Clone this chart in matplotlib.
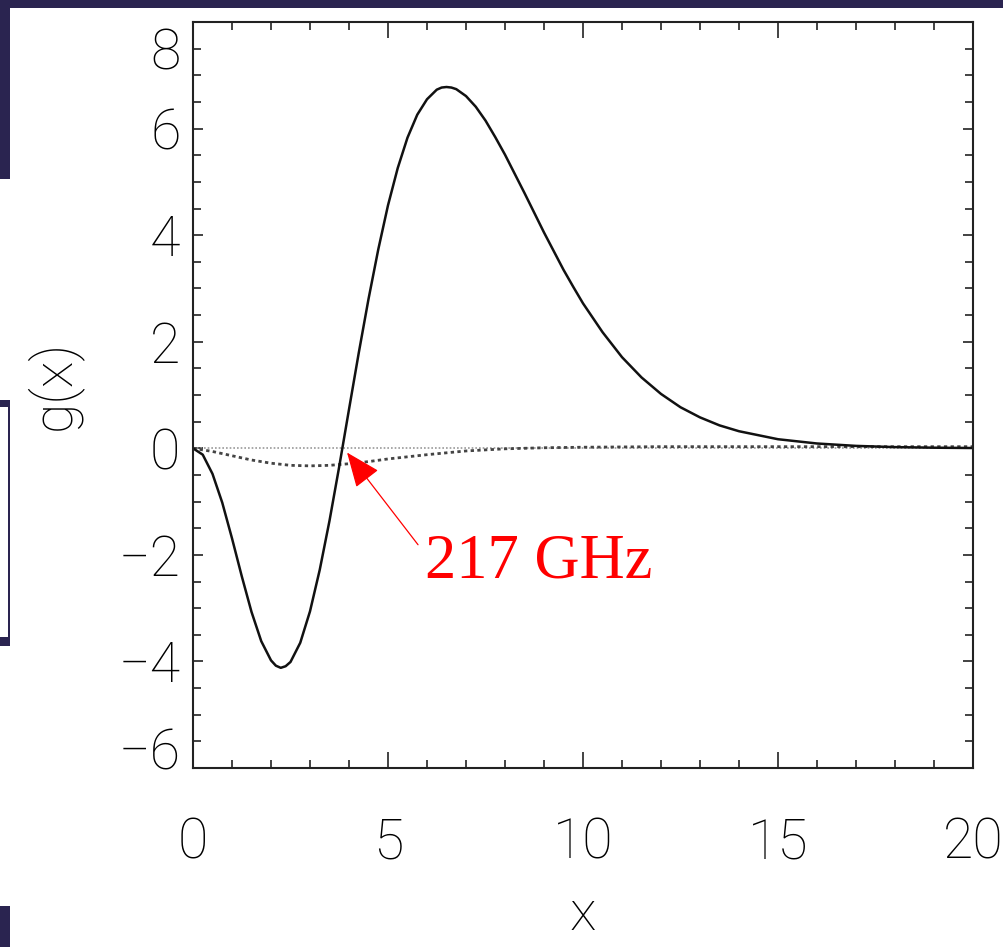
import numpy as np
import matplotlib
matplotlib.use('Agg')
import matplotlib.pyplot as plt
import matplotlib.transforms as mtransforms
from matplotlib.patches import Rectangle
from matplotlib.ticker import MultipleLocator

# thermal SZ spectral shape g(x)
x_solid = [0, 0.25, 0.5, 0.75, 1, 1.25, 1.5, 1.75, 2, 2.125, 2.25, 2.375, 2.5, 2.75,
           3, 3.25, 3.5, 3.75, 4, 4.25, 4.5, 4.75, 5, 5.25, 5.5, 5.75, 6, 6.25,
           6.375, 6.5, 6.625, 6.75, 7, 7.25, 7.5, 7.75, 8, 8.25, 8.5, 8.75, 9, 9.25,
           9.5, 9.75, 10, 10.5, 11, 11.5, 12, 12.5, 13, 13.5, 14, 15, 16, 17, 18, 19, 20]
g_solid = [0, -0.12, -0.48, -1.02, -1.69, -2.40, -3.07, -3.62, -3.98, -4.08, -4.12,
           -4.09, -4.01, -3.65, -3.06, -2.28, -1.36, -0.34, 0.73, 1.79, 2.80, 3.73,
           4.56, 5.26, 5.83, 6.26, 6.55, 6.73, 6.77, 6.78, 6.77, 6.74, 6.61, 6.41,
           6.15, 5.84, 5.51, 5.15, 4.79, 4.42, 4.05, 3.70, 3.35, 3.03, 2.72, 2.18,
           1.71, 1.33, 1.02, 0.77, 0.58, 0.43, 0.32, 0.17, 0.09, 0.045, 0.022, 0.011,
           0.005]

# small correction term (dashed)
x_dash = [0, 0.5, 1, 1.5, 2, 2.5, 3, 3.5, 4, 4.5, 5, 6, 7, 8, 9, 10, 12, 14, 16, 18, 20]
g_dash = [0, -0.06, -0.14, -0.22, -0.28, -0.32, -0.33, -0.32, -0.29, -0.25, -0.20,
          -0.12, -0.05, -0.01, 0.01, 0.02, 0.03, 0.03, 0.03, 0.03, 0.03]

# zero reference (dotted)
x_zero = [0, 20]
g_zero = [0, 0]

xticks = [0, 5, 10, 15, 20]
yticks = [-6, -4, -2, 0, 2, 4, 6, 8]

W, H = 1004, 947
fig = plt.figure(figsize=(W / 100, H / 100), dpi=100)
fig.patch.set_facecolor('white')

# slide background bits peeking out at the left / top
bg = '#2a2450'
def px_rect(x0, y0, x1, y1, **kw):
    r = Rectangle((x0 / W, 1 - y1 / H), (x1 - x0) / W, (y1 - y0) / H,
                  transform=fig.transFigure, linewidth=0, **kw)
    fig.patches.append(r)

px_rect(0, 0, W, 8, facecolor=bg)
px_rect(0, 0, 10, 179, facecolor=bg)
px_rect(0, 400, 10, 407, facecolor=bg)
px_rect(8, 400, 10, 646, facecolor=bg)
px_rect(0, 637, 10, 646, facecolor=bg)
px_rect(0, 906, 10, H, facecolor=bg)

ax = fig.add_axes([193 / W, 1 - 768 / H, 780 / W, 746 / H])

ax.plot(x_zero, g_zero, color='#999999', lw=1.2, linestyle=(0, (1, 1.2)))
ax.plot(x_dash, g_dash, color='#444444', lw=2.0, linestyle=(0, (1.2, 1.2)))
ax.plot(x_solid, g_solid, color='#111111', lw=1.8)

ax.set_xlim(0, 20)
ax.set_ylim(-6, 8)
ax.set_xticks(xticks)
ax.set_yticks(yticks)
ax.xaxis.set_minor_locator(MultipleLocator(1))
ax.yaxis.set_minor_locator(MultipleLocator(0.5))

lab_font = dict(family=['Roboto', 'DejaVu Sans'], weight='light', size=40)
ax.set_xticklabels([str(t) for t in xticks], fontdict=lab_font)
ax.set_yticklabels([str(t).replace('-', '\u2212') for t in yticks], fontdict=lab_font)

for s in ax.spines.values():
    s.set_linewidth(1.5)
    s.set_color('#222222')

ax.tick_params(which='both', direction='in', top=True, right=True, color='#222222', width=1.2)
ax.tick_params(axis='x', which='major', length=11.5, pad=35)
ax.tick_params(axis='x', which='minor', length=5.8)
ax.tick_params(axis='y', which='major', length=7, pad=9)
ax.tick_params(axis='y', which='minor', length=5.8)

# the end labels on the y axis sit inside the frame
yt = ax.yaxis.get_major_ticks()
yt[-1].label1.set_transform(yt[-1].label1.get_transform() +
                            mtransforms.ScaledTranslation(0, -0.26, fig.dpi_scale_trans))
yt[0].label1.set_transform(yt[0].label1.get_transform() +
                           mtransforms.ScaledTranslation(0, 0.20, fig.dpi_scale_trans))

ax.set_ylabel('g(x)', fontdict=lab_font)
ax.yaxis.set_label_coords(-0.142, 0.513)
ax.set_xlabel('x', fontdict=lab_font)
ax.xaxis.set_label_coords(0.5, -0.197)
ax.xaxis.label.set_va('center')

ax.annotate('', xy=(3.95, -0.08), xytext=(5.77, -1.81),
            arrowprops=dict(arrowstyle='-|>,head_length=1.1,head_width=0.45',
                            mutation_scale=20, color='red', lw=0.9,
                            shrinkA=0, shrinkB=0))
ax.text(5.95, -2.43, '217 GHz', color='red', fontsize=45,
        family=['Liberation Serif', 'DejaVu Serif'], ha='left', va='baseline')

fig.savefig('out.png', dpi=100)
